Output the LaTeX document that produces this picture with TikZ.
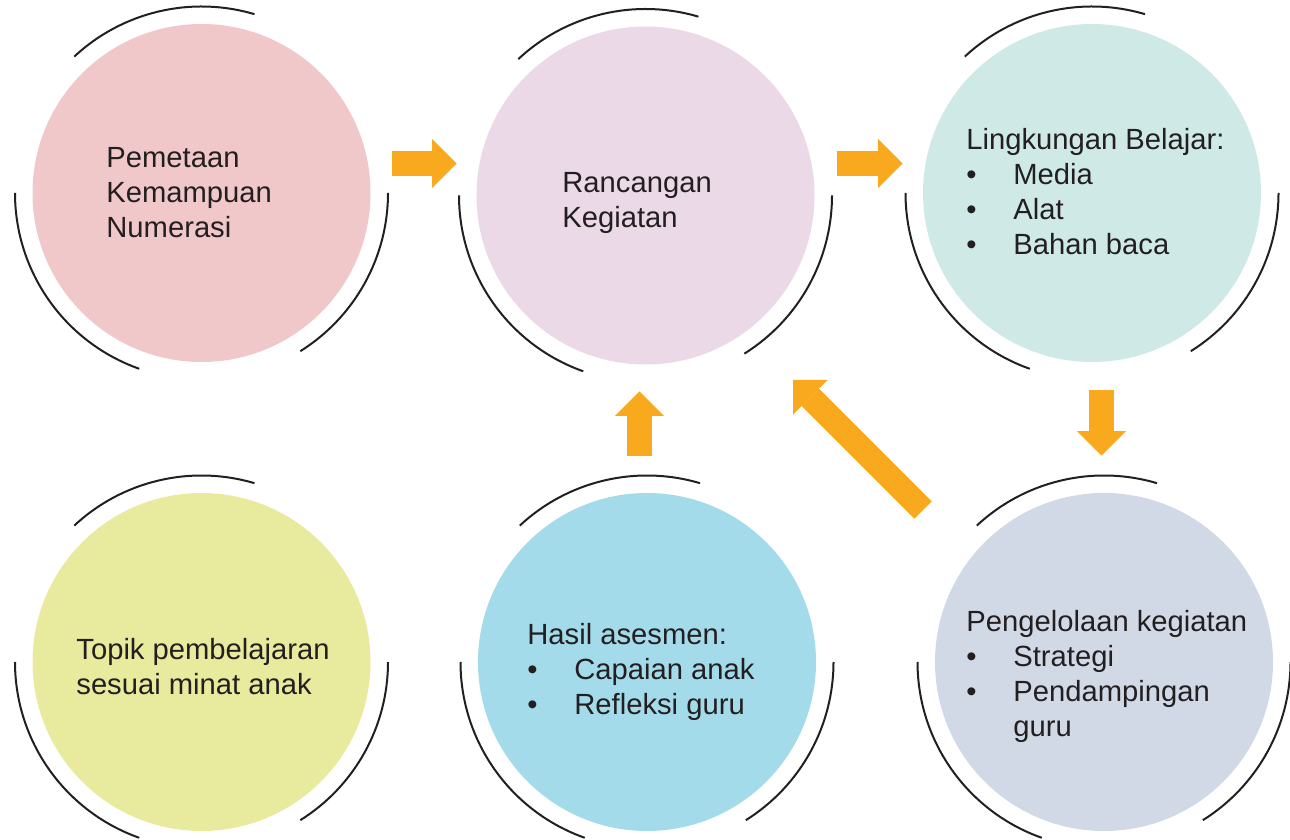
\documentclass[tikz,border=0pt]{standalone}
\usepackage{fontspec}
\setmainfont{Liberation Sans}
\usetikzlibrary{arrows.meta}

\newlength{\du}
\setlength{\du}{0.5pt}

\definecolor{pinkc}{rgb}{0.941176, 0.784314, 0.792157}
\definecolor{lavc}{rgb}{0.921569, 0.850980, 0.909804}
\definecolor{mintc}{rgb}{0.811765, 0.913725, 0.901961}
\definecolor{limec}{rgb}{0.909804, 0.921569, 0.615686}
\definecolor{bluec}{rgb}{0.639216, 0.858824, 0.917647}
\definecolor{greyc}{rgb}{0.819608, 0.850980, 0.901961}
\definecolor{arrowc}{rgb}{0.976471, 0.662745, 0.117647}
\definecolor{inkc}{rgb}{0.137255, 0.121569, 0.125490}

\tikzset{
  bubble/.style={circle, inner sep=0pt, minimum size=338\du},
  bubbletext/.style={anchor=base west, inner sep=0pt, align=left, text=inkc,
    font=\fontsize{14.6pt}{17.5pt}\selectfont},
  ringline/.style={draw=inkc, line width=2\du},
  % tip sizes in pt (24.5du and 49du)
  blockarrow/.style={draw=arrowc, line width=24.5\du,
    -{Triangle[length=12.25pt, width=24.5pt, line width=0pt]}}
}

\newcommand{\bul}[1]{\makebox[23.5pt][l]{\textbullet}#1}
\newcommand{\ringarcs}[1]{%
  \foreach \ta/\tb in {73.5/133, 180/250.5, -58/0}{%
    \draw[ringline] (#1.center) ++(\ta:186.5\du) arc[start angle=\ta, end angle=\tb, radius=186.5\du];}}

\begin{document}
\begin{tikzpicture}
\useasboundingbox (0,0) rectangle (1290\du,840\du);
% circles
\node[bubble, fill=pinkc] (c1) at (201.5\du,647\du) {};
\node[bubble, fill=lavc] (c2) at (645.5\du,644.5\du) {};
\node[bubble, fill=mintc] (c3) at (1092\du,647\du) {};
\node[bubble, fill=limec] (c4) at (201.5\du,178\du) {};
\node[bubble, fill=bluec] (c5) at (647\du,178\du) {};
\node[bubble, fill=greyc] (c6) at (1104\du,178\du) {};
% rings
\ringarcs{c1}
\ringarcs{c2}
\ringarcs{c3}
\ringarcs{c4}
\ringarcs{c5}
\ringarcs{c6}
% texts (anchored at the last baseline)
\node[bubbletext] (t1) at (106\du,602\du) {Pemetaan\\Kemampuan\\Numerasi};
\node[bubbletext] (t2) at (562\du,612\du) {Rancangan\\Kegiatan};
\node[bubbletext] (t3) at (966\du,585\du) {Lingkungan Belajar:\\\bul{Media}\\\bul{Alat}\\\bul{Bahan baca}};
\node[bubbletext] (t4) at (76\du,145\du) {Topik pembelajaran\\sesuai minat anak};
\node[bubbletext] (t5) at (527\du,125\du) {Hasil asesmen:\\\bul{Capaian anak}\\\bul{Refleksi guru}};
\node[bubbletext] (t6) at (966\du,103\du) {Pengelolaan kegiatan\\\bul{Strategi}\\\bul{Pendampingan}\\\makebox[23.5pt]{}guru};
% arrows
\draw[blockarrow, shorten <=23.6\du, shorten >=19.5\du] (c1.10) -- (c1.10 -| c2.west);
\draw[blockarrow, shorten <=22.5\du, shorten >=20\du] (c1.10 -| c2.east) -- (c1.10 -| c3.west);
\draw[blockarrow, shorten <=28\du, shorten >=37\du] ([xshift=-2.5\du]c6.north |- c3.south) -- ([xshift=-2.5\du]c6.north);
\draw[blockarrow, shorten <=37\du, shorten >=26.5\du] ([xshift=-7.5\du]c5.north) -- ([xshift=-7.5\du]c5.north |- c2.south);
\draw[blockarrow] ([shift={(-181\du,152\du)}]c6.center) -- ([shift={(147.5\du,-184.5\du)}]c2.center);
\end{tikzpicture}
\end{document}
